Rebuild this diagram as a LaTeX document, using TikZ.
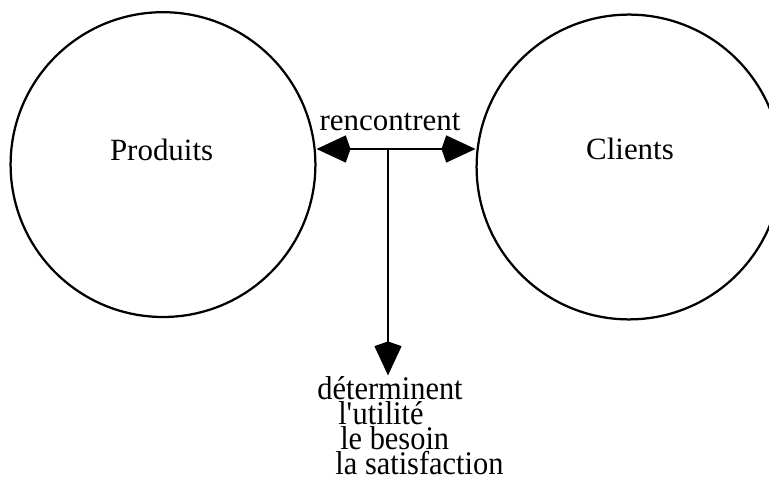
\documentclass[tikz,border=0pt]{standalone}
\usepackage{fontspec}
\setmainfont{Liberation Serif}
\newfontfamily\detfont{Liberation Serif}[FakeStretch=0.92]
\usepackage{tikz}
\usetikzlibrary{arrows.meta,calc}

\begin{document}
\begin{tikzpicture}[
    circ/.style={draw, circle, line width=1.6pt, minimum size=7.62cm, inner sep=0pt},
    lbl/.style={font=\fontsize{22}{16}\selectfont, inner sep=0pt},
    >={Kite[length=0.85cm,width=0.68cm,inset=0.12cm]}
]
    \useasboundingbox (0,0) rectangle (19.225,11.975);

    \node[circ] (prod) at (4.075,7.86) {};
    \node[circ] (cli) at (15.725,7.8) {};
    \node[lbl, anchor=base] (prodtxt) at (4.04,7.96) {Produits};
    \node[lbl, anchor=base] (clitxt) at (15.75,7.98) {Clients};

    \coordinate (meet) at (9.7,8.25);
    \coordinate (bas) at (9.7,2.59);
    \node[lbl, anchor=base] (renc) at (9.75,8.71) {rencontrent};
    \draw[line width=1.4pt, <->] (prod.east |- meet) to (cli.west |- meet);
    \draw[line width=1.4pt, ->] (meet) to (bas);

    \node[lbl, font=\detfont\fontsize{23.5}{16.1}\selectfont, anchor=north west, align=left] (det) at (7.93,2.56)
    {déterminent\\
     \hspace*{0.52cm}l\textquotesingle utilité\\
     \hspace*{0.57cm}le besoin\\
     \hspace*{0.45cm}la satisfaction};
\end{tikzpicture}
\end{document}
